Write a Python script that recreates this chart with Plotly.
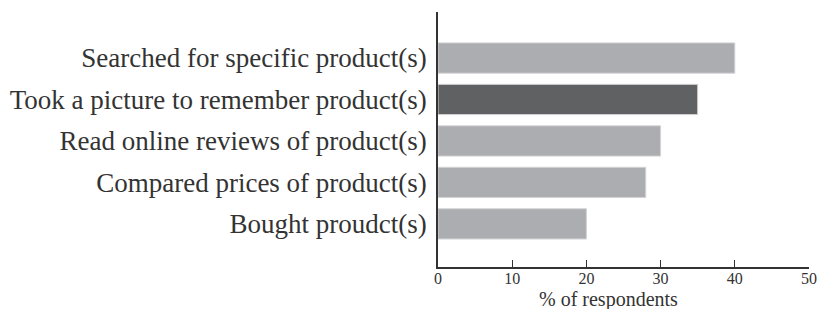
import plotly.graph_objects as go

categories = [
    "Searched for specific product(s)",
    "Took a picture to remember product(s)",
    "Read online reviews of product(s)",
    "Compared prices of product(s)",
    "Bought proudct(s)",
]
values = [40, 35, 30, 28, 20]
bar_colors = ["#acadb0", "#606163", "#acadb0", "#acadb0", "#acadb0"]
x_ticks = [0, 10, 20, 30, 40, 50]

fig = go.Figure(go.Bar(
    x=values, y=categories, orientation="h",
    marker=dict(color=bar_colors, line=dict(color="#d4d4d6", width=1)),
    width=0.73, hoverinfo="skip",
))

fig.update_layout(
    width=820, height=309,
    margin=dict(l=438, r=11, t=12, b=42, autoexpand=False),
    paper_bgcolor="white", plot_bgcolor="white",
    font=dict(family="Liberation Serif, Times New Roman, serif", color="#333333"),
    showlegend=False,
    xaxis=dict(
        range=[0, 50], tickvals=x_ticks, ticks="inside", ticklen=7, tickwidth=1.3,
        tickcolor="#333333", showline=True, linecolor="#333333", linewidth=1.5,
        showgrid=False, zeroline=False, tickfont=dict(size=16), automargin=False,
        ticklabelstandoff=-4,
    ),
    yaxis=dict(
        type="category", categoryorder="array", categoryarray=categories,
        range=[5.04, -1.11], showline=True, linecolor="#333333", linewidth=1.5,
        showgrid=False, ticks="outside", ticklen=4, tickcolor="rgba(0,0,0,0)",
        tickfont=dict(size=27), automargin=False,
    ),
    annotations=[dict(
        text="% of respondents", x=(608.5 - 438) / 371 * 50, xref="x",
        y=-0.129, yref="paper", yanchor="middle", xanchor="center",
        showarrow=False, font=dict(size=20),
    )],
)

fig.write_html(
    "out.html",
    config={"displayModeBar": False},
    post_script="document.body.style.margin='0';document.body.style.overflow='hidden';",
)
